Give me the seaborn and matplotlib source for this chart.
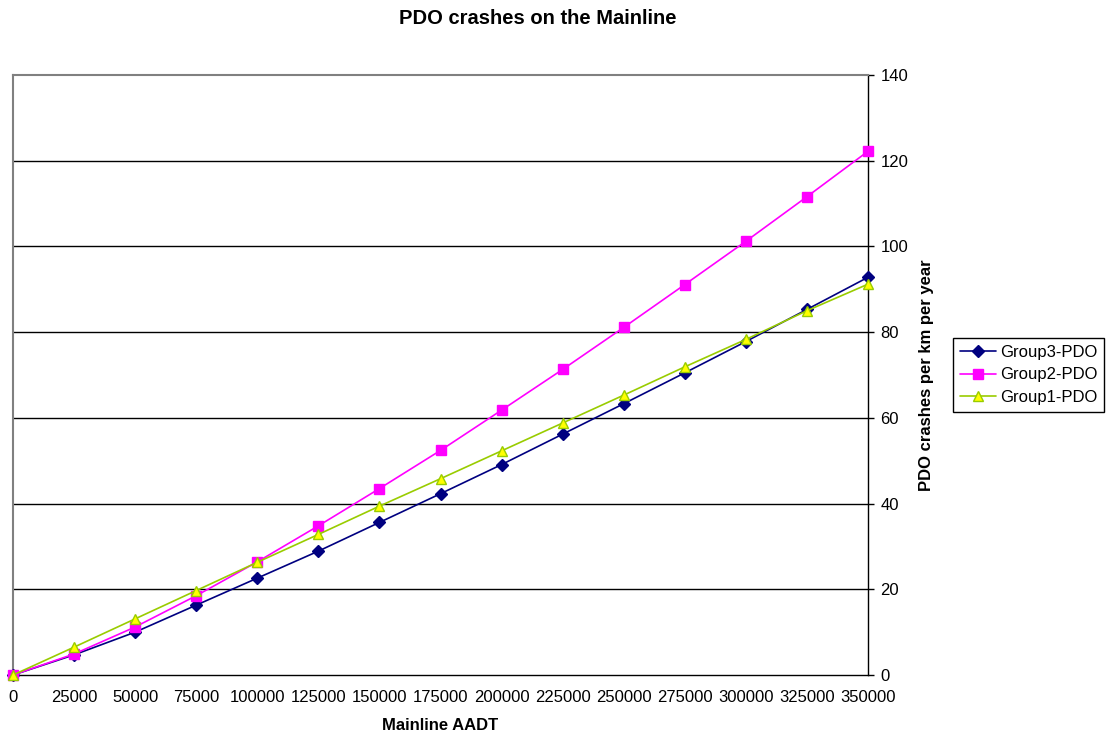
import matplotlib
matplotlib.use("Agg")
import matplotlib.pyplot as plt
import seaborn as sns
import pandas as pd

# Mainline AADT values (x) and crash rates per series
aadt = [0, 25000, 50000, 75000, 100000, 125000, 150000, 175000,
        200000, 225000, 250000, 275000, 300000, 325000, 350000]
group3_pdo = [0.0, 4.7, 10.0, 16.3, 22.6, 28.9, 35.6, 42.3,
              49.1, 56.2, 63.3, 70.5, 77.8, 85.3, 92.8]
group2_pdo = [0.0, 4.9, 11.2, 18.5, 26.4, 34.8, 43.5, 52.4,
              61.8, 71.3, 81.1, 91.1, 101.2, 111.6, 122.2]
group1_pdo = [0.0, 6.5, 13.1, 19.7, 26.3, 32.8, 39.4, 45.8,
              52.3, 58.8, 65.3, 71.9, 78.3, 85.0, 91.2]
series_names = ["Group3-PDO", "Group2-PDO", "Group1-PDO"]
y_ticks = [0, 20, 40, 60, 80, 100, 120, 140]

df = pd.concat([
    pd.DataFrame({"AADT": aadt, "rate": vals, "series": name})
    for name, vals in zip(series_names, [group3_pdo, group2_pdo, group1_pdo])
], ignore_index=True)

sns.set_theme(style="white")
plt.rcParams["font.family"] = ["Liberation Sans", "DejaVu Sans"]
plt.rcParams["text.color"] = "black"
plt.rcParams["axes.labelcolor"] = "black"
plt.rcParams["xtick.color"] = "black"
plt.rcParams["ytick.color"] = "black"

fig = plt.figure(figsize=(11.07, 7.36), dpi=100)
ax = fig.add_axes([13 / 1107, 1 - 675 / 736, 855 / 1107, 600 / 736])

line_colors = {"Group3-PDO": "#000080", "Group2-PDO": "#FF00FF", "Group1-PDO": "#99CC00"}
face_colors = {"Group3-PDO": "#000080", "Group2-PDO": "#FF00FF", "Group1-PDO": "#FFFF00"}
marker_map = {"Group3-PDO": "D", "Group2-PDO": "s", "Group1-PDO": "^"}
marker_size = {"Group3-PDO": 6, "Group2-PDO": 7.2, "Group1-PDO": 7.8}

for name in series_names:
    sub = df[df["series"] == name]
    sns.lineplot(data=sub, x="AADT", y="rate", ax=ax, color=line_colors[name],
                 marker=marker_map[name], markersize=marker_size[name],
                 markerfacecolor=face_colors[name], markeredgecolor=line_colors[name],
                 markeredgewidth=1.0, linewidth=1.2, label=name, clip_on=False,
                 zorder=3)

ax.set_xlim(0, 350000)
ax.set_ylim(0, 140)
ax.set_xticks(aadt)
ax.set_xticklabels([str(v) for v in aadt], fontsize=12)
ax.set_yticks(y_ticks)
ax.set_yticklabels([str(v) for v in y_ticks], fontsize=12)
ax.yaxis.tick_right()
ax.yaxis.set_label_position("right")
ax.tick_params(axis="x", direction="out", length=4, width=1, color="black", pad=7)
ax.tick_params(axis="y", direction="out", length=4, width=1, color="black", pad=5,
               right=True, left=False)

for y in y_ticks[1:-1]:
    ax.axhline(y, color="black", linewidth=1, zorder=1)

ax.spines["top"].set_color("#808080")
ax.spines["left"].set_color("#808080")
ax.spines["top"].set_linewidth(1.5)
ax.spines["left"].set_linewidth(1.5)
ax.spines["right"].set_color("black")
ax.spines["bottom"].set_color("black")
ax.spines["right"].set_linewidth(1)
ax.spines["bottom"].set_linewidth(1)

ax.set_xlabel("Mainline AADT", fontsize=12, fontweight="bold", labelpad=9)
ax.set_ylabel("PDO crashes per km per year", fontsize=12, fontweight="bold", labelpad=8)
fig.suptitle("PDO crashes on the Mainline", fontsize=14.5, fontweight="bold", y=0.988, x=0.486)

handles, labels = ax.get_legend_handles_labels()
ax.legend(handles, labels, loc="center left", bbox_to_anchor=(953 / 1107, 1 - 375 / 736),
          bbox_transform=fig.transFigure, frameon=True, fancybox=False,
          edgecolor="black", fontsize=12, handlelength=2.2, handletextpad=0.2,
          borderpad=0.4, labelspacing=0.45, borderaxespad=0, framealpha=1)
ax.get_legend().get_frame().set_linewidth(1)

fig.savefig("out.png", dpi=100, facecolor="white")
